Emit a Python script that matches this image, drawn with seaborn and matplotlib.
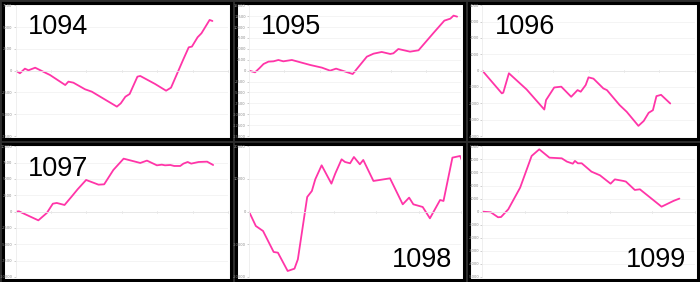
import matplotlib
matplotlib.use("Agg")
import matplotlib.pyplot as plt
import numpy as np
import pandas as pd
import seaborn as sns

sns.set_style("white")
plt.rcParams['font.family'] = ['DejaVu Sans']

# ---- data ----
ids = ["1094", "1095", "1096", "1097", "1098", "1099"]

x1094 = [0, 0.12, 0.26, 0.36, 0.55, 0.97, 1.40, 1.49, 1.63, 1.96, 2.15, 2.86, 2.97, 3.10, 3.22, 3.44, 3.52, 3.94, 4.25, 4.39, 4.73, 4.89, 4.98, 5.14, 5.25, 5.48, 5.56]
y1094 = [0, -300, 230, 40, 340, -500, -1650, -1260, -1380, -2140, -2410, -4130, -3750, -2990, -2680, -690, -610, -1530, -2300, -1950, 1230, 2680, 2760, 3830, 4290, 5820, 5700]

x1095 = [0, 0.17, 0.29, 0.41, 0.55, 0.69, 0.83, 0.97, 1.21, 1.73, 2.06, 2.29, 2.46, 2.93, 3.33, 3.52, 3.75, 3.99, 4.08, 4.22, 4.55, 4.79, 5.22, 5.52, 5.69, 5.78, 5.88]
y1095 = [0, -380, 540, 1530, 2070, 2140, 2450, 2140, 2450, 1300, 690, 0, 460, -770, 3210, 3900, 4290, 3830, 3980, 4970, 4360, 4670, 8720, 11480, 11940, 12630, 12400]

x1096 = [0, 0.55, 0.59, 0.75, 1.25, 1.75, 1.80, 2.03, 2.23, 2.51, 2.69, 2.78, 2.92, 3.00, 3.14, 3.42, 3.52, 3.88, 4.08, 4.41, 4.56, 4.70, 4.82, 4.92, 5.05, 5.31]
y1096 = [0, -1390, -1350, -160, -1150, -2380, -1800, -1030, -980, -1600, -1190, -1290, -880, -410, -490, -1090, -1190, -2110, -2520, -3380, -3080, -2580, -2420, -1560, -1480, -2010]

x1097 = [0, 0.09, 0.64, 0.88, 1.05, 1.16, 1.38, 1.58, 1.75, 1.99, 2.34, 2.50, 2.76, 3.05, 3.52, 3.71, 3.99, 4.13, 4.22, 4.37, 4.48, 4.65, 4.74, 4.86, 4.96, 5.17, 5.41, 5.58]
y1097 = [0, 50, -1330, -200, 1220, 1330, 1020, 2300, 3420, 4850, 4130, 4180, 6380, 8110, 7450, 7810, 7090, 7190, 7090, 7140, 6990, 6990, 7350, 7600, 7350, 7600, 7650, 7140]

x1098 = [0, 0.16, 0.33, 0.58, 0.68, 0.91, 1.07, 1.15, 1.37, 1.48, 1.56, 1.71, 1.94, 2.03, 2.18, 2.26, 2.38, 2.47, 2.61, 2.69, 2.93, 3.32, 3.62, 3.77, 3.87, 4.09, 4.26, 4.50, 4.58, 4.79, 4.97, 5.01]
y1098 = [0, -4390, -5920, -12350, -12550, -18160, -17450, -14590, 4490, 6330, 9900, 14180, 8570, 11630, 16020, 15200, 14800, 16730, 14490, 15820, 9390, 10200, 2240, 4290, 2240, 1430, -2040, 3570, 3270, 16530, 17040, 15820]

x1099 = [0, 0.20, 0.37, 0.44, 0.61, 0.89, 1.16, 1.34, 1.58, 1.87, 1.99, 2.13, 2.18, 2.25, 2.34, 2.57, 2.77, 3.02, 3.12, 3.32, 3.38, 3.59, 3.71, 4.22, 4.50, 4.64]
y1099 = [0, -50, -430, -410, 180, 1840, 4260, 4770, 4130, 4080, 3830, 3670, 3880, 3700, 3700, 3060, 2780, 2140, 2470, 2350, 2300, 1660, 1710, 380, 820, 1000]

xs = [x1094, x1095, x1096, x1097, x1098, x1099]
ys = [y1094, y1095, y1096, y1097, y1098, y1099]
ylims = [7500, 15000, 4000, 10000, 20000, 5000]
ysteps = [2500, 2500, 1000, 2500, 10000, 1000]
xmaxs = [6, 6, 6, 6, 5, 5]
label_bottom_right = [False, False, False, False, True, True]

LINE = "#ff35a8"
W, H = 700, 282
fig = plt.figure(figsize=(7, 2.82), dpi=100, facecolor="#2e2e2e")

def fx(px):
    return px / W

def fy(py):
    return 1 - py / H

cw = W / 3.0
ch = H / 2.0
for i in range(6):
    r, c = divmod(i, 3)
    x0 = c * cw
    y0 = r * ch
    # panel background
    bg = fig.add_axes([fx(x0 + 2.5), fy(y0 + ch - 2.5), (cw - 5) / W, (ch - 5) / H])
    bg.set_facecolor("white")
    bg.set_xticks([])
    bg.set_yticks([])
    for s in bg.spines.values():
        s.set_visible(True)
        s.set_color("black")
        s.set_linewidth(2.2)
    bg.set_zorder(0)

    left = x0 + 15.7
    right = x0 + 228
    top = y0 + 5.3
    bottom = y0 + 136
    ax = fig.add_axes([fx(left), fy(bottom), (right - left) / W, (bottom - top) / H])
    ax.set_zorder(1)
    ax.patch.set_visible(False)
    df = pd.DataFrame({"x": xs[i], "y": ys[i]})
    sns.lineplot(data=df, x="x", y="y", ax=ax, color=LINE, linewidth=1.3)
    lim = ylims[i]
    ax.set_xlim(0, xmaxs[i])
    ax.set_ylim(-lim, lim)
    ax.set_yticks(np.arange(-lim, lim + 1, ysteps[i]))
    ax.set_xticks(np.arange(0, xmaxs[i] + 1, 1))
    ax.set_xticklabels([])
    ax.set_xlabel("")
    ax.set_ylabel("")
    ax.grid(axis="y", color="#f2f2f2", linewidth=0.6)
    ax.set_axisbelow(True)
    for s in ["top", "right"]:
        ax.spines[s].set_visible(False)
    ax.spines["bottom"].set_position(("data", 0))
    ax.spines["bottom"].set_color("#e6e6e6")
    ax.spines["bottom"].set_linewidth(0.6)
    ax.spines["left"].set_color("#ececec")
    ax.spines["left"].set_linewidth(0.6)
    ax.tick_params(axis="y", labelsize=2.6, labelcolor="#888888", length=1.5, width=0.5,
                   color="#bbbbbb", pad=0.8, left=True)
    ax.tick_params(axis="x", length=1.5, width=0.5, color="#cccccc", direction="inout", bottom=True)
    ax.yaxis.set_major_formatter(matplotlib.ticker.FuncFormatter(lambda v, p: f"{int(v)}"))
    # big id label
    if not label_bottom_right[i]:
        fig.text(fx(x0 + 28), fy(y0 + 34.5), ids[i], fontsize=19.5, color="black",
                 family=["Liberation Sans", "DejaVu Sans"],
                 ha="left", va="baseline", zorder=5)
    else:
        fig.text(fx(x0 + 219), fy(y0 + 126), ids[i], fontsize=19.5, color="black",
                 family=["Liberation Sans", "DejaVu Sans"],
                 ha="right", va="baseline", zorder=5)

fig.savefig("out.png", dpi=100, facecolor=fig.get_facecolor())
